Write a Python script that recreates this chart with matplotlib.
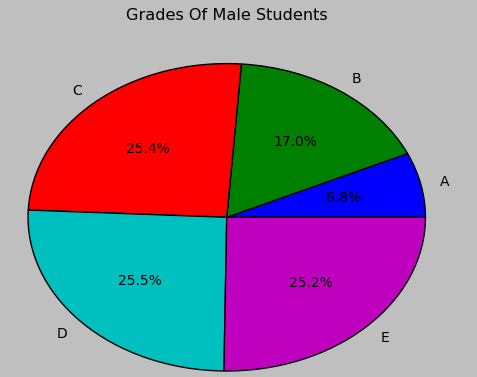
import matplotlib
matplotlib.use("Agg")
import matplotlib.pyplot as plt

# ===== Data =====
grades = ["A", "B", "C", "D", "E"]
shares = [6.8, 17.0, 25.4, 25.5, 25.2]
colors = ["b", "g", "r", "c", "m"]

plt.style.use("classic")

fig = plt.figure(figsize=(4.775, 3.775), dpi=100)
ax = fig.add_axes([28 / 477, 6 / 377, 397 / 477, 307 / 377])

ax.pie(shares, labels=grades, colors=colors, autopct="%1.1f%%",
       startangle=0, counterclock=True, frame=False,
       wedgeprops={"edgecolor": "black", "linewidth": 1},
       textprops={"fontsize": 10})
ax.set_aspect("auto")
ax.set_xlim(-1, 1)
ax.set_ylim(-1, 1)
ax.set_xticks([])
ax.set_yticks([])

fig.text(227 / 477, 1 - 15 / 377, "Grades Of Male Students",
         ha="center", va="center", fontsize=11.6)

fig.savefig("out.png", dpi=100, facecolor=fig.get_facecolor())
